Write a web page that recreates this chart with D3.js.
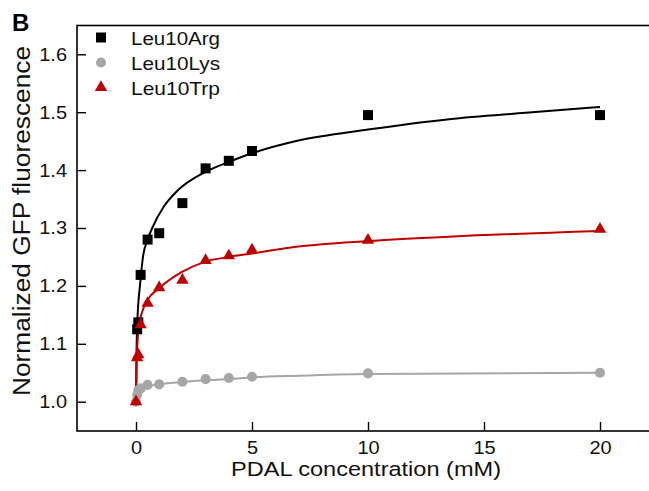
<!DOCTYPE html>
<html>
<head>
<meta charset="utf-8">
<script src="https://cdn.jsdelivr.net/npm/d3@7"></script>
<style>
  body { margin: 0; background: #fff; }
  svg { display: block; font-family: "Liberation Sans", Arial, sans-serif; }
</style>
</head>
<body>
<div id="chart"></div>
<script>
const width = 649,
  height = 491;

// PDAL concentrations (mM)
const conc = [0, 0.05, 0.1, 0.2, 0.5, 1, 2, 3, 4, 5, 10, 20];

// null = no visible marker at that concentration
const argValues = [null, 1.125, 1.137, 1.219, 1.28, 1.291, 1.343, 1.403, 1.416, 1.433, 1.495, 1.495];
const lysValues = [1.0, 1.012, 1.02, 1.023, 1.029, 1.03, 1.0345, 1.039, 1.041, 1.043, 1.049, 1.05];
const trpValues = [1.0, 1.076, 1.081, 1.133, 1.17, 1.197, 1.21, 1.244, 1.252, 1.262, 1.279, 1.298];

// fitted curves as [x, y]
const argFit = [[0, 1.0], [0.02, 1.08], [0.05, 1.13], [0.1, 1.17], [0.17, 1.2], [0.3, 1.25], [0.5, 1.28],
  [0.7, 1.3], [1.2, 1.337], [1.75, 1.363], [3, 1.397], [4, 1.414], [5, 1.429], [7, 1.451],
  [10, 1.47], [13.5, 1.488], [16.8, 1.499], [20, 1.509]];
const lysFit = [[0, 1.0], [0.05, 1.012], [0.1, 1.018], [0.25, 1.024], [0.5, 1.027], [1, 1.03],
  [2, 1.034], [3, 1.037], [4, 1.039], [5, 1.042], [7, 1.045], [10, 1.048], [20, 1.05]];
const trpFit = [[0, 1.0], [0.03, 1.07], [0.06, 1.1], [0.12, 1.13], [0.25, 1.153], [0.5, 1.176],
  [1, 1.196], [2, 1.2245], [3, 1.242], [4, 1.25], [5, 1.256], [7, 1.268], [10, 1.2775],
  [13.5, 1.285], [20, 1.295]];

const xTicks = [0, 5, 10, 15, 20];
const yTicks = [1.0, 1.1, 1.2, 1.3, 1.4, 1.5, 1.6];

const series = [
  { name: "Leu10Arg", values: argValues, fit: argFit, color: "#000000", symbol: d3.symbolSquare, size: 100 },
  { name: "Leu10Lys", values: lysValues, fit: lysFit, color: "#a6a6a6", symbol: d3.symbolCircle, size: 80 },
  { name: "Leu10Trp", values: trpValues, fit: trpFit, color: "#c00000", symbol: d3.symbolTriangle, size: 66 },
];

const frame = { left: 77, right: 665, top: 25.5, bottom: 431 };

const x = d3.scaleLinear().domain([0, 20]).range([136, 600]);
const y = d3.scaleLinear().domain([1.0, 1.6]).range([401.7, 54.3]);

// the figure's lettering is a bit wider than Arial
function widen(sel, factor) {
  sel.each(function () {
    const w = this.getComputedTextLength();
    d3.select(this).attr("textLength", w * factor).attr("lengthAdjust", "spacingAndGlyphs");
  });
}

const svg = d3
  .select("#chart")
  .append("svg")
  .attr("width", width)
  .attr("height", height);

// frame
svg
  .append("rect")
  .attr("x", frame.left)
  .attr("y", frame.top)
  .attr("width", frame.right - frame.left)
  .attr("height", frame.bottom - frame.top)
  .attr("fill", "none")
  .attr("stroke", "#000")
  .attr("stroke-width", 1.6);

const xAxis = svg
  .append("g")
  .attr("transform", `translate(0,${frame.bottom})`)
  .call(d3.axisBottom(x).tickValues(xTicks).tickSizeInner(-9).tickSizeOuter(0).tickPadding(10).tickFormat(d3.format("d")));
xAxis.select(".domain").remove();

const yAxis = svg
  .append("g")
  .attr("transform", `translate(${frame.left},0)`)
  .call(d3.axisLeft(y).tickValues(yTicks).tickSizeInner(-9).tickSizeOuter(0).tickPadding(10).tickFormat(d3.format(".1f")));
yAxis.select(".domain").remove();

svg.selectAll(".tick line").attr("stroke", "#000").attr("stroke-width", 1.4);
svg
  .selectAll(".tick text")
  .attr("fill", "#111")
  .style("font-size", "18.5px")
  .style("font-family", "Liberation Sans, Arial, sans-serif")
  .call(widen, 1.08);

// axis titles
svg
  .append("text")
  .attr("x", 366)
  .attr("y", 476)
  .attr("text-anchor", "middle")
  .style("font-size", "20.5px")
  .attr("fill", "#111")
  .attr("textLength", 270)
  .attr("lengthAdjust", "spacingAndGlyphs")
  .text("PDAL concentration (mM)");

svg
  .append("text")
  .attr("transform", "translate(30,221) rotate(-90)")
  .attr("text-anchor", "middle")
  .style("font-size", "23px")
  .attr("fill", "#111")
  .attr("textLength", 350)
  .attr("lengthAdjust", "spacingAndGlyphs")
  .text("Normalized GFP fluorescence");

// panel letter
svg
  .append("text")
  .attr("x", 12)
  .attr("y", 31)
  .style("font-size", "24px")
  .style("font-weight", "bold")
  .text("B");

const line = d3
  .line()
  .x((d) => x(d[0]))
  .y((d) => y(d[1]))
  .curve(d3.curveMonotoneX);

// lys at the back, trp in front
const drawOrder = [series[1], series[0], series[2]];

drawOrder.forEach((s) => {
  svg
    .append("path")
    .datum(s.fit)
    .attr("fill", "none")
    .attr("stroke", s.color)
    .attr("stroke-width", 2)
    .attr("d", line);
});

drawOrder.forEach((s) => {
  svg
    .append("g")
    .selectAll("path")
    .data(conc.map((c, i) => [c, s.values[i]]).filter((d) => d[1] != null))
    .join("path")
    .attr("transform", (d) => `translate(${x(d[0])},${y(d[1])})`)
    .attr("d", d3.symbol(s.symbol, s.size))
    .attr("fill", s.color);
});

// legend
const legend = svg
  .append("g")
  .selectAll("g")
  .data(series)
  .join("g")
  .attr("transform", (d, i) => `translate(101,${37.5 + i * 25})`);

legend
  .append("path")
  .attr("d", (d) => d3.symbol(d.symbol, d.size)())
  .attr("fill", (d) => d.color);

legend
  .append("text")
  .attr("x", 30)
  .attr("y", 7)
  .style("font-size", "19px")
  .attr("fill", "#111")
  .attr("textLength", 89)
  .attr("lengthAdjust", "spacingAndGlyphs")
  .text((d) => d.name);
</script>
</body>
</html>
